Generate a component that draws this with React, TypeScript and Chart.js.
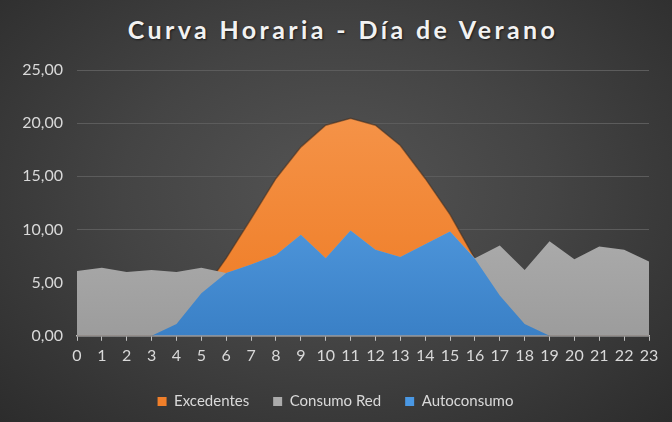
import React, { useEffect, useRef } from "react";
import { Chart, registerables } from "chart.js";

Chart.register(...registerables);

const hours: string[] = ["0","1","2","3","4","5","6","7","8","9","10","11","12","13","14","15","16","17","18","19","20","21","22","23"];
const excedentes: number[] = [0,0,0,0,1.1,4.0,7.3,11.0,14.8,17.75,19.8,20.45,19.8,17.9,14.8,11.4,7.25,3.8,1.1,0,0,0,0,0];
const consumoRed: number[] = [6.1,6.4,6.0,6.2,6.0,6.4,5.9,6.7,7.6,9.5,7.3,9.9,8.1,7.4,8.6,9.8,7.3,8.5,6.2,8.9,7.2,8.4,8.1,7.0];
const autoconsumo: number[] = [0,0,0,0,1.1,4.0,5.9,6.7,7.6,9.5,7.3,9.9,8.1,7.4,8.6,9.8,7.25,3.8,1.1,0,0,0,0,0];
const yTicks: number[] = [0,5,10,15,20,25];
const title = "Curva Horaria - Día de Verano";

const FONT = "Lato, 'Noto Sans', sans-serif";

function grad(top: string, bottom: string, fallback: string) {
  return (ctx: any) => {
    const chart = ctx.chart;
    const area = chart.chartArea;
    if (!area) return fallback;
    const g = chart.ctx.createLinearGradient(0, area.top, 0, area.bottom);
    g.addColorStop(0, top);
    g.addColorStop(1, bottom);
    return g;
  };
}

export default function App() {
  const ref = useRef<HTMLCanvasElement | null>(null);
  useEffect(() => {
    document.body.style.margin = "0";
    const c = ref.current;
    if (!c) return;
    const chart = new Chart(c, {
      type: "line",
      data: {
        labels: hours,
        datasets: [
          {
            label: "Excedentes",
            data: excedentes,
            order: 3,
            fill: "origin",
            backgroundColor: grad("#F69850", "#EE7A22", "#F08030"),
            borderColor: "rgba(70,45,30,0.55)",
            borderWidth: 1.5,
            pointRadius: 0,
            tension: 0,
          },
          {
            label: "Consumo Red",
            data: consumoRed,
            order: 2,
            fill: "origin",
            backgroundColor: grad("#C2C2C2", "#9C9C9C", "#B0B0B0"),
            borderColor: "rgba(0,0,0,0)",
            borderWidth: 0,
            pointRadius: 0,
            tension: 0,
          },
          {
            label: "Autoconsumo",
            data: autoconsumo,
            order: 1,
            fill: "origin",
            backgroundColor: grad("#68B2F6", "#3A80C6", "#4A94DC"),
            borderColor: "rgba(0,0,0,0)",
            borderWidth: 0,
            pointRadius: 0,
            tension: 0,
          },
        ],
      },
      options: {
        animation: false,
        responsive: false,
        maintainAspectRatio: false,
        layout: { padding: { top: 70, left: 22, right: 23, bottom: 3 } },
        plugins: {
          title: { display: false },
          tooltip: { enabled: false },
          legend: {
            position: "bottom",
            labels: {
              boxWidth: 9,
              boxHeight: 9,
              padding: 24,
              color: "#D9D9D9",
              font: { family: FONT, size: 15 },
              sort: (a: any, b: any) => a.datasetIndex - b.datasetIndex,
              generateLabels: (ch: any) =>
                ch.data.datasets.map((d: any, i: number) => ({
                  text: d.label,
                  fillStyle: ["#F07F2A", "#ABABAB", "#4A98E4"][i],
                  strokeStyle: "rgba(0,0,0,0)",
                  lineWidth: 0,
                  fontColor: "#D9D9D9",
                  datasetIndex: i,
                  hidden: false,
                })),
            },
          },
        },
        scales: {
          x: {
            type: "category",
            offset: false,
            grid: {
              display: true,
              drawOnChartArea: false,
              drawTicks: true,
              tickLength: 5,
              color: "#BFBFBF",
            },
            border: { display: true, color: "#BFBFBF", width: 1.5 },
            ticks: {
              color: "#D9D9D9",
              font: { family: FONT, size: 16 },
              padding: 5,
              maxRotation: 0,
              autoSkip: false,
            },
          },
          y: {
            min: 0,
            max: 25,
            afterFit: (s: any) => { s.width = 55; },
            afterBuildTicks: (s: any) => { s.ticks = yTicks.map((v) => ({ value: v })); },
            grid: {
              color: (ctx: any) => (ctx.tick && ctx.tick.value === 0 ? "rgba(0,0,0,0)" : "#5C5C5C"),
              drawTicks: false,
              lineWidth: 1,
            },
            border: { display: false },
            ticks: {
              color: "#D9D9D9",
              font: { family: FONT, size: 16 },
              padding: 14,
              callback: (v: any) => Number(v).toFixed(2).replace(".", ","),
            },
          },
        },
      },
    });
    return () => chart.destroy();
  }, []);

  return (
    <div
      style={{
        position: "relative",
        width: 672,
        height: 422,
        background: "radial-gradient(ellipse at 50% 45%, #545454 0%, #444444 45%, #2C2C2C 100%)",
        overflow: "hidden",
      }}
    >
      <div
        style={{
          position: "absolute",
          top: 14,
          left: 7,
          width: 672,
          textAlign: "center",
          fontFamily: FONT,
          fontWeight: 700,
          fontSize: 25,
          letterSpacing: 3.4,
          color: "#F2F2F2",
          textShadow: "1px 1px 2px rgba(0,0,0,0.6)",
        }}
      >
        {title}
      </div>
      <canvas ref={ref} width={672} height={422} style={{ position: "absolute", left: 0, top: 0 }} />
    </div>
  );
}
